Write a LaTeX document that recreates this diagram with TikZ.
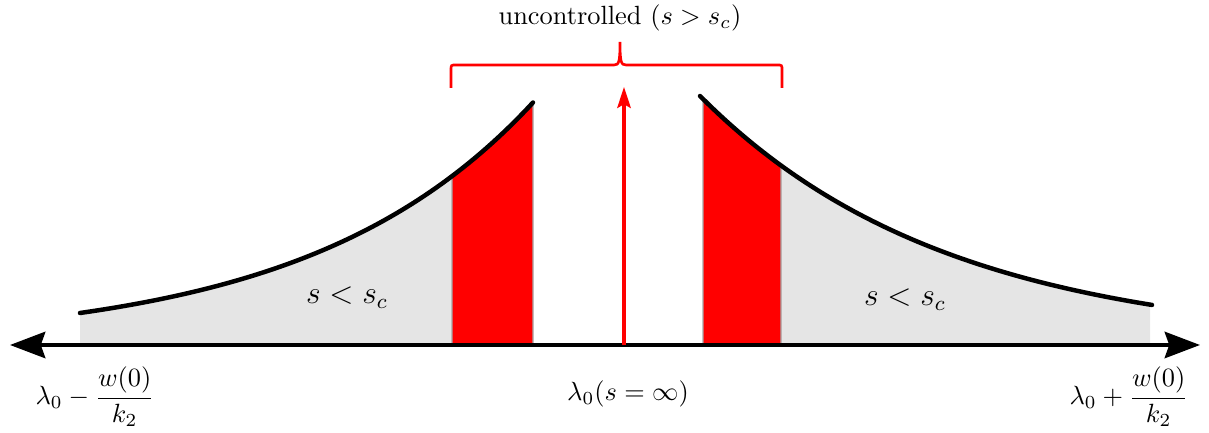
\documentclass[tikz,border=0pt]{standalone}
\usepackage{amsmath}
\usetikzlibrary{arrows.meta}
\begin{document}
\begin{tikzpicture}[x=0.01334cm, y=-0.01334cm,
        declare function={hl(\x)=345-32*exp(0.004466*(\x-80)); hr(\x)=345-249*exp(-0.004046*(\x-700));},
        curve/.style={line width=1.7pt, line cap=round},
        band/.style={draw=gray!70, line width=0.4pt, fill=red}]
    \useasboundingbox (0,0) rectangle (1209,433);
    % areas under the curves
    \fill[gray!20] (80,345) -- plot[domain=80:452, samples=60] (\x, {hl(\x)}) -- (452,345) -- cycle;
    \fill[gray!20] (781,345) -- plot[domain=781:1150, samples=60] (\x, {hr(\x)}) -- (1150,345) -- cycle;
    \filldraw[band] (452,345) -- plot[domain=452:533, samples=20] (\x, {hl(\x)}) -- (533,345) -- cycle;
    \filldraw[band] (703,345) -- plot[domain=703:781, samples=20] (\x, {hr(\x)}) -- (781,345) -- cycle;
    \draw[curve] plot[domain=80:533, samples=80] (\x, {hl(\x)});
    \draw[curve] plot[domain=700:1152, samples=80] (\x, {hr(\x)});
    % axis
    \coordinate (axL) at (10,345);
    \coordinate (axR) at (1200,345);
    \draw[line width=1.6pt, {Stealth[length=4.7mm, width=3.5mm, inset=0.6mm]}-{Stealth[length=4.7mm, width=3.5mm, inset=0.6mm]}] (axL) -- (axR);
    % centre line
    \coordinate (base) at (624,345);
    \coordinate (peak) at (624,87);
    \draw[red, line width=1.2pt, -{Stealth[length=2.8mm, width=1.8mm, inset=0.5mm]}] (base) -- (peak);
    % brace
    \coordinate (brL) at (451,88);
    \coordinate (brR) at (782,88);
    \coordinate (brTip) at (620,42);
    \draw[red, line width=1pt] (brL) -- (451,70) .. controls (451,65) .. (456,65) -- (614,65)
        .. controls (619,65) and (620,62) .. (brTip) .. controls (620,62) and (621,65) .. (626,65)
        -- (777,65) .. controls (782,65) .. (782,70) -- (brR);
    % labels
    \node (unc) at (620,18) {uncontrolled $(s>s_c)$};
    \node[font=\large] (lowL) at (347,298) {$s<s_c$};
    \node[font=\large] (lowR) at (905,300) {$s<s_c$};
    \node (lamL) at (95,397) {$\lambda_0-\dfrac{w(0)}{k_2}$};
    \node (lamC) at (628,394) {$\lambda_0(s=\infty)$};
    \node (lamR) at (1129,397) {$\lambda_0+\dfrac{w(0)}{k_2}$};
\end{tikzpicture}
\end{document}
